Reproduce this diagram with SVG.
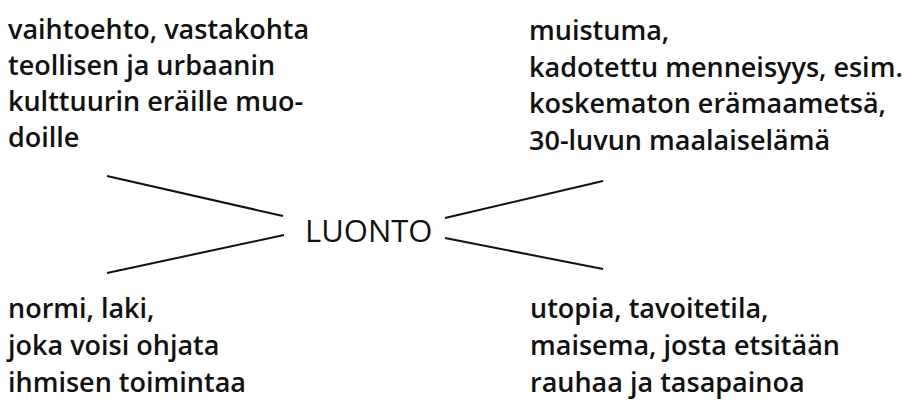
<svg xmlns="http://www.w3.org/2000/svg" width="912" height="410" viewBox="0 0 912 410">
<style>
text{font-family:"Open Sans","Noto Sans","DejaVu Sans",sans-serif;font-size:27px;font-weight:600;fill:#111}
.c{font-size:31px;font-weight:400}
line{stroke:#111;stroke-width:2}
</style>
<rect width="912" height="410" fill="#fff"/>
<g id="center"><text class="c" x="305" y="242">LUONTO</text></g>
<g id="n-topleft"><text x="8" y="39">vaihtoehto, vastakohta</text><text x="8" y="75">teollisen ja urbaanin</text><text x="8" y="111">kulttuurin eräille muo-</text><text x="8" y="147">doille</text></g>
<g id="n-topright"><text x="529" y="40">muistuma,</text><text x="529" y="77">kadotettu menneisyys, esim.</text><text x="529" y="113">koskematon erämaametsä,</text><text x="529" y="150">30-luvun maalaiselämä</text></g>
<g id="n-bottomleft"><text x="8" y="318">normi, laki,</text><text x="8" y="355">joka voisi ohjata</text><text x="8" y="392">ihmisen toimintaa</text></g>
<g id="n-bottomright"><text x="530" y="318">utopia, tavoitetila,</text><text x="530" y="355">maisema, josta etsitään</text><text x="530" y="392">rauhaa ja tasapainoa</text></g>
<g id="connectors">
<line x1="107" y1="176" x2="283" y2="216"/>
<line x1="284" y1="235" x2="107" y2="273"/>
<line x1="445" y1="218" x2="603" y2="181"/>
<line x1="445" y1="238" x2="603" y2="269"/>
</g>
</svg>
